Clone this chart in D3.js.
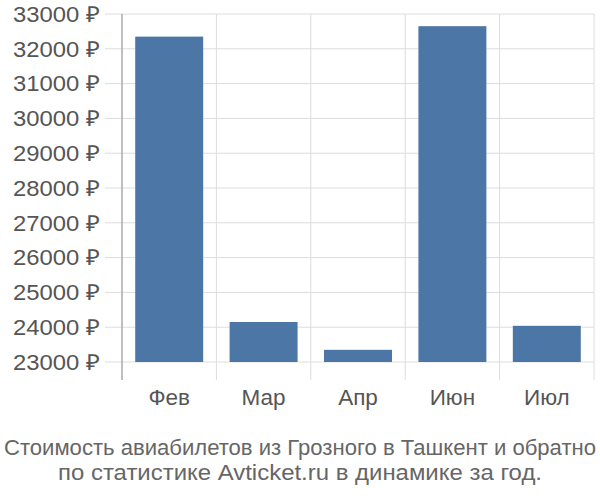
<!DOCTYPE html>
<html><head><meta charset="utf-8">
<script src="https://cdn.jsdelivr.net/npm/d3@7"></script>
<style>body{margin:0;background:#fff}svg{display:block}text{font-family:"Liberation Sans",Arial,sans-serif}</style>
</head><body><svg width="600" height="500"></svg>
<script>
const categories = ["Фев","Мар","Апр","Июн","Июл"];
const values = [32350, 24150, 23350, 32650, 24040];
const yTicks = [23000,24000,25000,26000,27000,28000,29000,30000,31000,32000,33000];
const titleLines = ["Стоимость авиабилетов из Грозного в Ташкент и обратно","по статистике Avticket.ru в динамике за год."];

const svg = d3.select("svg");
const L = 122, R = 594, T = 14, B = 362;
const x = d3.scaleBand().domain(categories).range([L, R]).paddingInner(0.28).paddingOuter(0.14);
const y = d3.scaleLinear().domain([23000, 33000]).range([B, T]);

svg.append("g").selectAll("line").data(yTicks).join("line")
  .attr("x1", 105).attr("x2", R).attr("y1", d=>y(d)).attr("y2", d=>y(d))
  .attr("stroke", "#dddddd").attr("stroke-width", 1);
const step = x.step();
const vx = d3.range(categories.length+1).map(i => L + i*step);
svg.append("g").selectAll("line").data(vx.slice(1)).join("line")
  .attr("x1", d=>d).attr("x2", d=>d).attr("y1", T).attr("y2", 380)
  .attr("stroke", "#dddddd").attr("stroke-width", 1);
svg.append("line").attr("x1", L).attr("x2", L).attr("y1", T).attr("y2", 380)
  .attr("stroke", "#aaaaaa").attr("stroke-width", 1.5);

svg.append("g").selectAll("rect").data(values).join("rect")
  .attr("x", (d,i)=>x(categories[i])).attr("width", x.bandwidth())
  .attr("y", d=>y(d)).attr("height", d=>B - y(d))
  .attr("fill", "#4b76a6");

svg.append("g").selectAll("text").data(yTicks).join("text")
  .attr("x", 100).attr("y", d=>y(d)).attr("dy", "0.35em")
  .attr("text-anchor", "end").attr("font-size", 22).attr("fill", "#555")
  .attr("textLength", 87).attr("lengthAdjust", "spacingAndGlyphs")
  .text(d => d + " ₽");
svg.append("g").selectAll("text").data(categories).join("text")
  .attr("x", d=>x(d)+x.bandwidth()/2).attr("y", 405)
  .attr("text-anchor", "middle").attr("font-size", 22.5).attr("fill", "#555")
  .text(d=>d);
const tl = [592, 484];
svg.append("g").selectAll("text").data(titleLines).join("text")
  .attr("x", 300).attr("y", (d,i)=>455 + i*25)
  .attr("text-anchor", "middle").attr("font-size", 22).attr("fill", "#666")
  .attr("textLength", (d,i)=>tl[i]).attr("lengthAdjust", "spacingAndGlyphs")
  .text(d=>d);
</script></body></html>
